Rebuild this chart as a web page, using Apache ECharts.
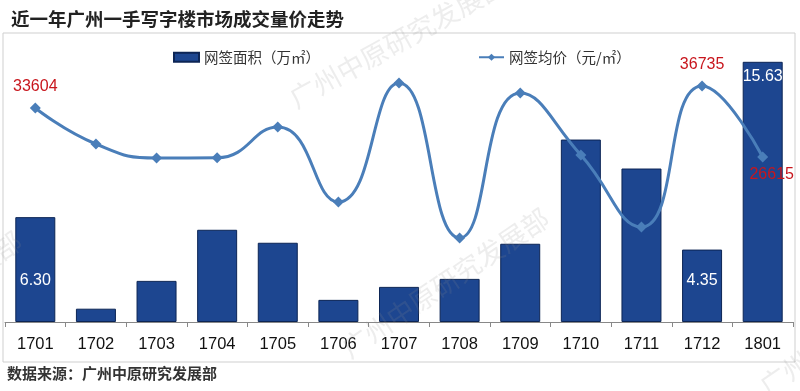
<!DOCTYPE html>
<html><head><meta charset="utf-8">
<script src="https://cdn.jsdelivr.net/npm/echarts@6/dist/echarts.min.js"></script>
<style>html,body{margin:0;padding:0;background:#fff}#c{width:800px;height:391px}</style>
</head><body><div id="c"></div>
<script>
const categories = ['1701','1702','1703','1704','1705','1706','1707','1708','1709','1710','1711','1712','1801'];
const areaValues = [6.30, 0.80, 2.47, 5.54, 4.76, 1.33, 2.11, 2.59, 4.70, 10.96, 9.22, 4.35, 15.63];
const priceValues = [33604, 28470, 26475, 26500, 30890, 20200, 37160, 15080, 35740, 26900, 16640, 36735, 26615];
const areaLabelIdx = [0, 11, 12];
const priceLabelIdx = [0, 11, 12];
const titleText = '近一年广州一手写字楼市场成交量价走势';
const sourceText = '数据来源：广州中原研究发展部';
const areaName = '网签面积（万㎡）';
const priceName = '网签均价（元/㎡）';
const watermarkText = '广州中原研究发展部';

const chart = echarts.init(document.getElementById('c'), null, {renderer: 'canvas'});
const barData = areaValues.map((v, i) => {
  const d = {value: v};
  if (areaLabelIdx.includes(i)) {
    d.label = {show: true, position: i === 12 ? 'insideTop' : 'insideBottom', distance: i === 12 ? 7 : 33,
      color: '#fff', fontSize: 16, fontFamily: 'Arial, Liberation Sans', formatter: p => p.value.toFixed(2)};
  }
  return d;
});
const lineData = priceValues.map((v, i) => {
  const d = {value: v};
  if (priceLabelIdx.includes(i)) {
    d.label = {show: true, position: i === 12 ? 'bottom' : 'top', distance: i === 12 ? 4 : 8,
      offset: i === 12 ? [9, 0] : [0, 0],
      color: '#c8161d', fontSize: 16, fontFamily: 'Arial, Liberation Sans'};
  }
  return d;
});
const wm = (x, y, deg) => ({type: 'text', x: x, y: y, rotation: deg * Math.PI / 180, silent: true, z: 100,
  style: {x: 0, y: 0, text: watermarkText, fill: 'rgba(140,140,140,0.16)', verticalAlign: 'bottom',
    font: '27px "Noto Sans CJK SC"'}});
chart.setOption({
  animation: false,
  backgroundColor: '#fff',
  title: {text: titleText, left: 6, top: 5,
    textStyle: {fontSize: 18.5, fontWeight: 'bold', color: '#222', fontFamily: 'Noto Sans CJK SC'}},
  legend: {top: 45, left: 168, itemGap: 158, itemWidth: 25, itemHeight: 9,
    textStyle: {fontSize: 14.5, color: '#333', fontFamily: 'Noto Sans CJK SC'},
    data: [{name: areaName, icon: 'rect'}, {name: priceName}]},
  grid: {left: 5, right: 7, top: 39, bottom: 64, containLabel: false},
  xAxis: {type: 'category', data: categories,
    axisLine: {lineStyle: {color: '#888'}},
    axisTick: {show: true, length: 5, lineStyle: {color: '#888'}},
    axisLabel: {fontSize: 16.5, color: '#111', margin: 9,
      fontFamily: 'Arial, "Liberation Sans"'}},
  yAxis: [
    {type: 'value', min: -0.3, max: 17, show: false, splitLine: {show: false}},
    {type: 'value', min: 2393, max: 43433, show: false, splitLine: {show: false}}
  ],
  series: [
    {name: areaName, type: 'bar', data: barData, barWidth: 40, yAxisIndex: 0,
      itemStyle: {color: '#1d4690', borderColor: '#0c2555', borderWidth: 1}},
    {name: priceName, type: 'line', data: lineData, yAxisIndex: 1, smooth: 0.5,
      symbol: 'diamond', symbolSize: 11,
      lineStyle: {color: '#4a7eb9', width: 3}, itemStyle: {color: '#4a7eb9'}}
  ],
  graphic: [
    {type: 'rect', shape: {x: 3, y: 33, width: 792, height: 329}, silent: true,
      style: {fill: 'none', stroke: '#cfcfcf', lineWidth: 1}},
    {type: 'text', left: 7, top: 366, style: {text: sourceText, fill: '#333',
      font: 'bold 15px "Noto Sans CJK SC"'}},
    wm(298, 112, 29),
    wm(352, 362, 34),
    wm(-175, 385, 34),
    wm(770, 400, 34)
  ]
});
</script></body></html>
